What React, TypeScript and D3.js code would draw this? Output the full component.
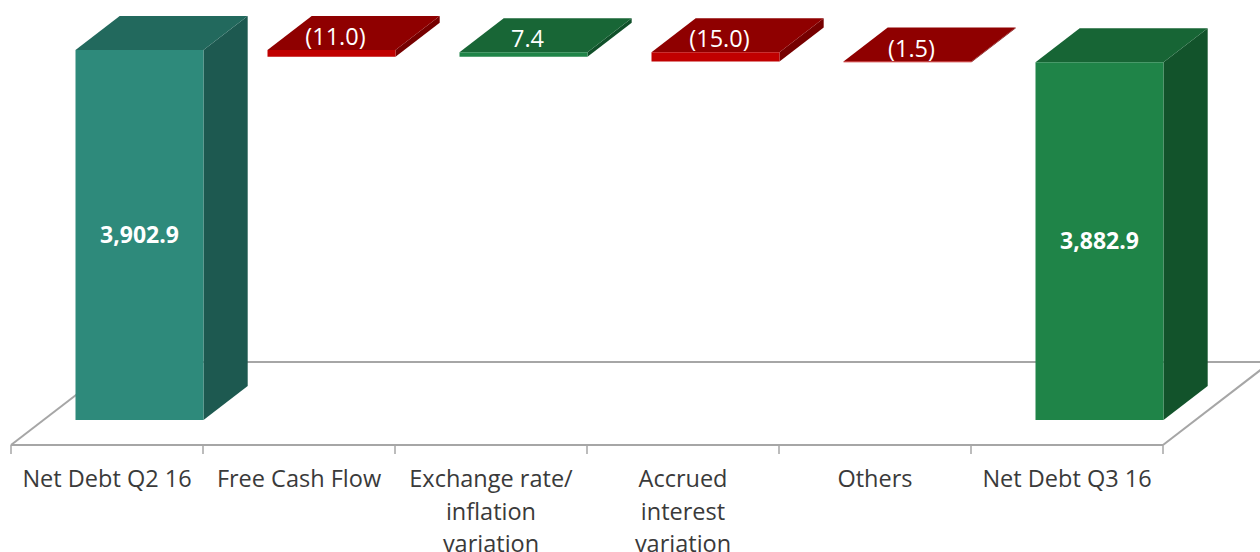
import * as d3 from 'd3';

const categories = [
  ['Net Debt Q2 16'],
  ['Free Cash Flow'],
  ['Exchange rate/', 'inflation', 'variation'],
  ['Accrued', 'interest', 'variation'],
  ['Others'],
  ['Net Debt Q3 16'],
];
const startValue = 3902.9;
const deltas = [-11.0, 7.4, -15.0, -1.5];
const endValue = 3882.9;
const axisDomain = [3300, 3950];

const W = 1260;
const H = 552;
const floorFront = 445;
const floorDepth = 83;
const barNear = 25;
const barFar = 59;
const skew = 1.3; // horizontal shift per pixel of depth

const colors = {
  start: { front: '#2e8a7b', top: '#22695d', side: '#1d5950' },
  end: { front: '#1f8448', top: '#176535', side: '#12532b' },
  up: { front: '#1f8448', top: '#186636', side: '#10502a' },
  down: { front: '#c00000', top: '#8f0000', side: '#760000' },
};

type Bar = { lo: number; hi: number; kind: keyof typeof colors; label: string; total: boolean };

const fmtTotal = d3.format(',.1f');
const fmtDelta = (v: number) => (v < 0 ? `(${Math.abs(v).toFixed(1)})` : v.toFixed(1));

const bars: Bar[] = [];
bars.push({ lo: axisDomain[0], hi: startValue, kind: 'start', label: fmtTotal(startValue), total: true });
let running = startValue;
deltas.forEach(d => {
  const next = running + d;
  bars.push({
    lo: Math.min(running, next),
    hi: Math.max(running, next),
    kind: d < 0 ? 'down' : 'up',
    label: fmtDelta(d),
    total: false,
  });
  running = next;
});
bars.push({ lo: axisDomain[0], hi: endValue, kind: 'end', label: fmtTotal(endValue), total: true });

const App = () => {
  const x = d3.scaleBand<number>()
    .domain(d3.range(categories.length))
    .range([11, 1163])
    .paddingInner(1 / 3)
    .paddingOuter(1 / 6);
  const step = x.step();
  const bw = x.bandwidth();
  const y = d3.scaleLinear().domain(axisDomain).range([floorFront, floorFront - 650 * (370 / 602.9)]);

  // oblique projection: depth z moves up and to the right
  const P = (px: number, py: number, z: number) => [px + z * skew, py - z] as [number, number];
  const poly = (pts: [number, number][]) => pts.map(p => p.join(',')).join(' ');

  const x0 = x.range()[0];
  const x1 = x.range()[1];
  const tickXs = d3.range(categories.length + 1).map(i => x0 + i * step);

  const font = '"Open Sans", "Noto Sans", sans-serif';

  return (
    <svg width={W} height={H} style={{ position: 'fixed', left: 0, top: 0, background: '#fff' }}>
      {/* floor */}
      <g stroke="#a6a6a6" strokeWidth={2} fill="none">
        <line x1={P(x0, floorFront, floorDepth)[0]} y1={floorFront - floorDepth}
          x2={P(x1, floorFront, floorDepth)[0]} y2={floorFront - floorDepth} />
        <line x1={x0} y1={floorFront} x2={P(x0, floorFront, floorDepth)[0]} y2={floorFront - floorDepth} />
        <line x1={x1} y1={floorFront} x2={P(x1, floorFront, floorDepth)[0]} y2={floorFront - floorDepth} />
        <line x1={x0} y1={floorFront} x2={x1} y2={floorFront} />
        {tickXs.map((tx, i) => (
          <line key={i} x1={tx} y1={floorFront} x2={tx} y2={floorFront + 9} strokeWidth={1.5} />
        ))}
      </g>

      {/* bars */}
      {bars.map((b, i) => {
        const c = colors[b.kind];
        const left = x(i)!;
        const right = left + bw;
        const yHi = y(b.hi);
        const yLo = y(b.lo);
        const fTL = P(left, yHi, barNear);
        const fTR = P(right, yHi, barNear);
        const fBL = P(left, yLo, barNear);
        const fBR = P(right, yLo, barNear);
        const bTL = P(left, yHi, barFar);
        const bTR = P(right, yHi, barFar);
        const bBR = P(right, yLo, barFar);
        return (
          <g key={i}>
            <polygon points={poly([fTR, bTR, bBR, fBR])} fill={c.side} />
            <polygon points={poly([fTL, bTL, bTR, fTR])} fill={c.top} />
            <polygon points={poly([fTL, fTR, fBR, fBL])} fill={c.front} />
          </g>
        );
      })}

      {/* value labels */}
      {bars.map((b, i) => {
        const cx = x(i)! + bw / 2 + barNear * skew;
        if (b.total) {
          const cy = (y(b.hi) + y(b.lo)) / 2 - barNear;
          return (
            <text key={i} x={cx} y={cy} dy="0.35em" textAnchor="middle" fill="#fff"
              fontFamily={font} fontWeight={700} fontSize={23}>{b.label}</text>
          );
        }
        const cy = y(b.hi) - barNear - 13;
        return (
          <text key={i} x={cx + 4} y={cy} dy="0.35em" textAnchor="middle" fill="#fff"
            fontFamily={font} fontSize={23.5}>{b.label}</text>
        );
      })}

      {/* category labels */}
      {categories.map((lines, i) => (
        <text key={i} x={x0 + step * (i + 0.5)} y={487} textAnchor="middle" fill="#3a3a3a"
          fontFamily={font} fontSize={23.5}>
          {lines.map((l, j) => (
            <tspan key={j} x={x0 + step * (i + 0.5)} dy={j === 0 ? 0 : 32.5}>{l}</tspan>
          ))}
        </text>
      ))}
    </svg>
  );
};

export default App;
